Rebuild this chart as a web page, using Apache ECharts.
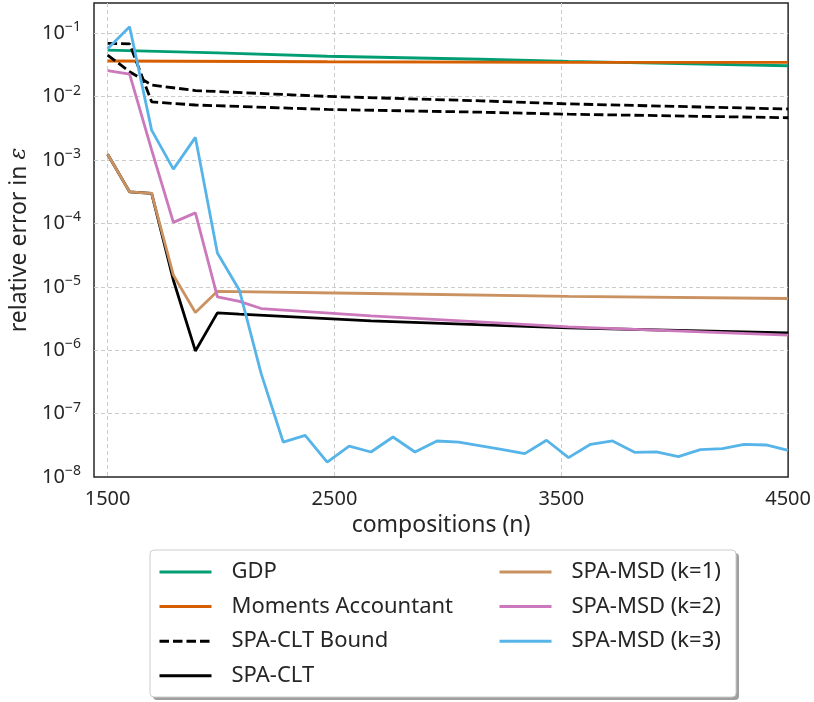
<!DOCTYPE html>
<html>
<head>
<meta charset="utf-8">
<script src="https://cdn.jsdelivr.net/npm/echarts@6/dist/echarts.min.js"></script>
<style>
html,body{margin:0;padding:0;background:#fff;}
#chart{width:814px;height:702px;}
</style>
</head>
<body>
<div id="chart"></div>
<script>
// ---- data ----
const compositions = [1500, 1597, 1694, 1790, 1887, 1984, 2081, 2177, 2274, 2371, 2468, 2565, 2661, 2758, 2855, 2952,
  3048, 3145, 3242, 3339, 3435, 3532, 3629, 3726, 3823, 3919, 4016, 4113, 4210, 4306, 4403, 4500];
const N = null;
const gdp = [0.0545, N, N, N, N, 0.049, N, N, N, N, 0.0435, N, N, N, N, N, N, 0.039, N, N, N, 0.036, N, N, N, N, 0.0333, N, N, N, N, 0.0308];
const momentsAccountant = [0.0366, N, N, N, N, N, N, N, N, N, 0.0356, N, N, N, N, N, N, N, N, N, N, 0.0349, N, N, N, N, N, N, N, N, N, 0.0347];
const spaCltBoundA = [0.0695, 0.068, 0.0083, N, 0.0074, N, N, N, N, N, 0.0063, N, N, N, N, N, N, 0.0057, N, N, N, 0.0053, N, N, N, N, N, N, N, N, N, 0.00466];
const spaCltBoundB = [0.0454, 0.0248, 0.0153, N, 0.0125, N, N, N, N, N, 0.0101, N, N, N, N, N, N, 0.0086, N, N, N, 0.0077, N, N, N, N, N, N, N, N, N, 0.0064];
const spaClt = [1.24e-3, 3.15e-4, 2.98e-4, 1.27e-5, 9.75e-7, 3.88e-6, 3.7e-6, N, N, N, N, N, 2.9e-6, N, N, N, N, N, N, N, N, 2.25e-6, N, N, N, N, N, N, N, N, N, 1.87e-6];
const spaMsdK1 = [1.24e-3, 3.15e-4, 2.98e-4, 1.53e-5, 3.94e-6, 8.5e-6, N, N, N, N, N, N, 7.85e-6, N, N, N, N, N, N, N, N, 7.1e-6, N, N, N, N, N, N, N, N, N, 6.55e-6];
const spaMsdK2 = [0.0257, 0.0228, 1.45e-3, 1.04e-4, 1.47e-4, 6.95e-6, 5.9e-6, 4.55e-6, N, N, N, N, 3.48e-6, N, N, N, N, N, N, N, N, 2.33e-6, N, N, N, N, N, N, N, N, N, 1.73e-6];
const spaMsdK3 = [0.057, 0.127, 2.97e-3, 7.2e-4, 2.28e-3, 3.43e-5, 8.85e-6, 4.28e-7, 3.56e-8, 4.55e-8, 1.72e-8, 3.08e-8, 2.48e-8, 4.28e-8, 2.48e-8, 3.7e-8,
  3.56e-8, 3.1e-8, 2.7e-8, 2.34e-8, 3.8e-8, 2.02e-8, 3.28e-8, 3.7e-8, 2.45e-8, 2.5e-8, 2.1e-8, 2.7e-8, 2.8e-8, 3.28e-8, 3.2e-8, 2.64e-8];
const xTicks = [1500, 2500, 3500, 4500];
const names = ['GDP', 'Moments Accountant', 'SPA-CLT Bound', 'SPA-CLT', 'SPA-MSD (k=1)', 'SPA-MSD (k=2)', 'SPA-MSD (k=3)'];

// ---- chart ----
const FONT = 'Noto Sans';
const TXT = '#262626';
const LW = 2.8;
function pairs(vals) {
  const out = [];
  vals.forEach((v, i) => { if (v !== null) out.push([compositions[i], v]); });
  return out;
}
function mk(name, vals, color, dashed) {
  return {
    name: name, type: 'line', data: pairs(vals), symbol: 'none', showSymbol: false,
    lineStyle: { color: color, width: LW, type: dashed ? [9.5, 4] : 'solid', cap: 'butt' },
    itemStyle: { color: color },
    emphasis: { disabled: true }, animation: false
  };
}
const chart = echarts.init(document.getElementById('chart'), null, { renderer: 'canvas' });
const legendCommon = {
  orient: 'vertical', itemWidth: 52, itemHeight: 12, itemGap: 10.6, padding: 0,
  selectedMode: false,
  itemStyle: { opacity: 0 },
  lineStyle: { width: 3 },
  textStyle: { fontFamily: FONT, fontSize: 22, color: TXT, lineHeight: 24, padding: [0, 0, 0, 15] }
};
chart.setOption({
  backgroundColor: '#fff',
  animation: false,
  textStyle: { fontFamily: FONT },
  grid: { left: 94, top: 3, right: 25, bottom: 225, show: true, borderColor: '#262626', borderWidth: 1.5, containLabel: false },
  graphic: [
    { type: 'rect', shape: { x: 153, y: 553, width: 586, height: 147, r: 4 }, style: { fill: 'rgba(80,80,80,0.55)' }, z: 0 },
    { type: 'rect', shape: { x: 150, y: 550, width: 586, height: 147, r: 4 }, style: { fill: '#fff', stroke: '#cccccc', lineWidth: 1 }, z: 1 }
  ],
  legend: [
    Object.assign({}, legendCommon, { left: 158, top: 560, data: names.slice(0, 4), z: 5 }),
    Object.assign({}, legendCommon, { left: 498, top: 560, data: names.slice(4), z: 5 })
  ],
  xAxis: {
    type: 'value', min: 1440, max: 4500,
    name: 'compositions (n)', nameLocation: 'middle', nameGap: 32,
    nameTextStyle: { fontFamily: FONT, fontSize: 23, color: TXT },
    axisLine: { show: false }, axisTick: { show: false, customValues: xTicks },
    axisLabel: { customValues: xTicks, fontFamily: FONT, fontSize: 20, color: TXT, margin: 12,
      formatter: function (v) { return String(v); } },
    splitLine: { show: true, showMaxLine: false, lineStyle: { color: '#cccccc', width: 1, type: [4, 3] } }
  },
  yAxis: {
    type: 'log', logBase: 10, min: 1e-8, max: 0.301,
    name: '{a|relative error in }{e|ε}', nameLocation: 'middle', nameGap: 60,
    nameTextStyle: { rich: { a: { fontFamily: FONT, fontSize: 23, color: TXT }, e: { fontFamily: 'DejaVu Serif', fontStyle: 'italic', fontSize: 22, color: TXT } } },
    axisLine: { show: false }, axisTick: { show: false },
    axisLabel: {
      margin: 13, color: TXT,
      formatter: function (v) {
        const e = Math.log10(v); const r = Math.round(e);
        if (Math.abs(e - r) > 0.01) return '';
        return '{b|10}{s|' + (r < 0 ? '\u2212' + (-r) : r) + '}';
      },
      rich: {
        b: { fontFamily: FONT, fontSize: 20, color: TXT, lineHeight: 26, verticalAlign: 'middle' },
        s: { fontFamily: FONT, fontSize: 14, color: TXT, lineHeight: 14, verticalAlign: 'top' }
      }
    },
    splitLine: { show: true, showMinLine: false, showMaxLine: false, lineStyle: { color: '#cccccc', width: 1, type: [4, 3] } }
  },
  series: [
    mk(names[0], gdp, '#029e73'),
    mk(names[1], momentsAccountant, '#d55e00'),
    mk(names[2], spaCltBoundA, '#000000', true),
    mk(names[2], spaCltBoundB, '#000000', true),
    mk(names[3], spaClt, '#000000'),
    mk(names[4], spaMsdK1, '#ca9161'),
    mk(names[5], spaMsdK2, '#cc78bc'),
    mk(names[6], spaMsdK3, '#56b4e9')
  ]
});
</script>
</body>
</html>
